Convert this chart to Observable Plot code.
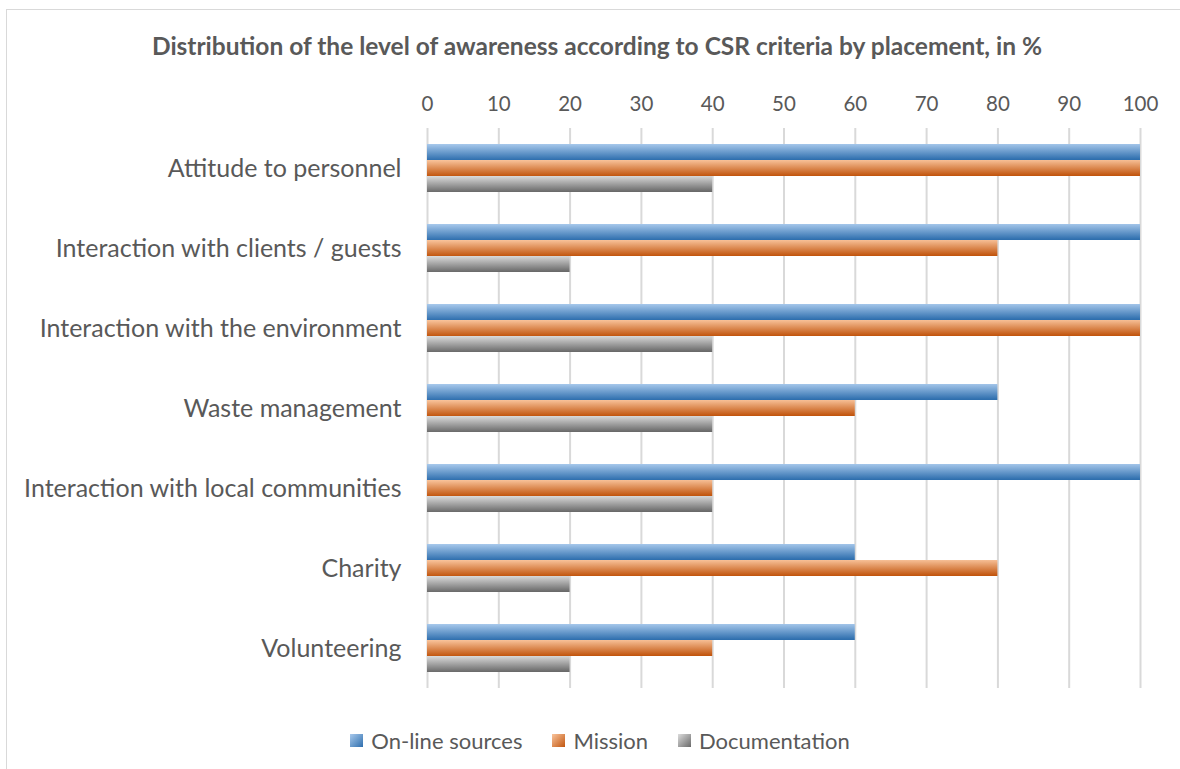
<!DOCTYPE html>
<html>
<head>
<meta charset="utf-8">
<script src="https://cdn.jsdelivr.net/npm/d3@7"></script>
<script src="https://cdn.jsdelivr.net/npm/@observablehq/plot@0.6"></script>
<style>
  html, body { margin: 0; padding: 0; background: #fff; }
  #wrap { position: relative; width: 1180px; height: 769px; overflow: hidden; font-family: Lato, "Open Sans", sans-serif; color: #595959; }
  #frame { position: absolute; left: 6px; top: 9px; width: 1200px; height: 780px; border: 1px solid #d9d9d9; box-sizing: border-box; }
  #title { position: absolute; left: 0; width: 1194px; top: 31px; text-align: center; font-weight: bold; font-size: 24.5px; color: #595959; }
  #chart { position: absolute; left: 0; top: 0; }
  #legend { position: absolute; left: 0; width: 1200px; top: 727px; display: flex; justify-content: center; gap: 30px; font-size: 22px; color: #595959; }
  .item { display: flex; align-items: center; gap: 8px; }
  .sw { width: 13px; height: 13px; display: inline-block; }
</style>
</head>
<body>
<div id="wrap">
  <div id="frame"></div>
  <div id="chart"></div>
  <div id="title"></div>
  <div id="legend"></div>
</div>
<script>
const title = "Distribution of the level of awareness according to CSR criteria by placement, in %";
const categories = [
  "Attitude to personnel",
  "Interaction with clients / guests",
  "Interaction with the environment",
  "Waste management",
  "Interaction with local communities",
  "Charity",
  "Volunteering"
];
const series = ["On-line sources", "Mission", "Documentation"];
const onlineSources = [100, 100, 100, 80, 100, 60, 60];
const mission = [100, 80, 100, 60, 40, 80, 40];
const documentation = [40, 20, 40, 40, 40, 20, 20];
const xTicks = [0, 10, 20, 30, 40, 50, 60, 70, 80, 90, 100];

const gradients = [
  {id: "gBlue", top: "#a8c9ec", bottom: "#2f6fae"},
  {id: "gOrange", top: "#f9c49c", bottom: "#c2560f"},
  {id: "gGray", top: "#dcdcdc", bottom: "#6a6a6a"}
];

const valuesBySeries = [onlineSources, mission, documentation];
const data = [];
categories.forEach((c, i) => {
  series.forEach((s, j) => data.push({category: c, series: s, value: valuesBySeries[j][i]}));
});

const chart = Plot.plot({
  width: 1180,
  height: 769,
  marginLeft: 427,
  marginRight: 40,
  marginTop: 127,
  marginBottom: 81,
  style: {fontFamily: "Lato, 'Open Sans', sans-serif", color: "#595959", background: "transparent"},
  x: {domain: [0, 100], label: null},
  y: {domain: series, axis: null, paddingInner: 0, paddingOuter: 0.9},
  fy: {domain: categories, padding: 0, label: null},
  color: {domain: series, range: gradients.map(g => `url(#${g.id})`)},
  marks: [
    Plot.gridX(xTicks, {stroke: "#d9d9d9", strokeOpacity: 1, strokeWidth: 2}),
    Plot.barX(data, {x: "value", y: "series", fy: "category", fill: "series"}),
    Plot.axisX({anchor: "top", ticks: xTicks, tickSize: 0, tickPadding: 18, fontSize: 20.5, label: null}),
    Plot.axisFy({anchor: "left", tickSize: 0, tickPadding: 26, fontSize: 25, label: null})
  ]
});

const defs = d3.select(chart).insert("defs", ":first-child");
gradients.forEach(g => {
  const lg = defs.append("linearGradient").attr("id", g.id).attr("x1", 0).attr("y1", 0).attr("x2", 0.05).attr("y2", 1);
  lg.append("stop").attr("offset", "0%").attr("stop-color", g.top);
  lg.append("stop").attr("offset", "100%").attr("stop-color", g.bottom);
});

document.getElementById("chart").appendChild(chart);
document.getElementById("title").textContent = title;

const legend = d3.select("#legend");
series.forEach((s, j) => {
  const it = legend.append("div").attr("class", "item");
  it.append("span").attr("class", "sw")
    .style("background", `linear-gradient(135deg, ${gradients[j].top}, ${gradients[j].bottom})`);
  it.append("span").text(s);
});
</script>
</body>
</html>
